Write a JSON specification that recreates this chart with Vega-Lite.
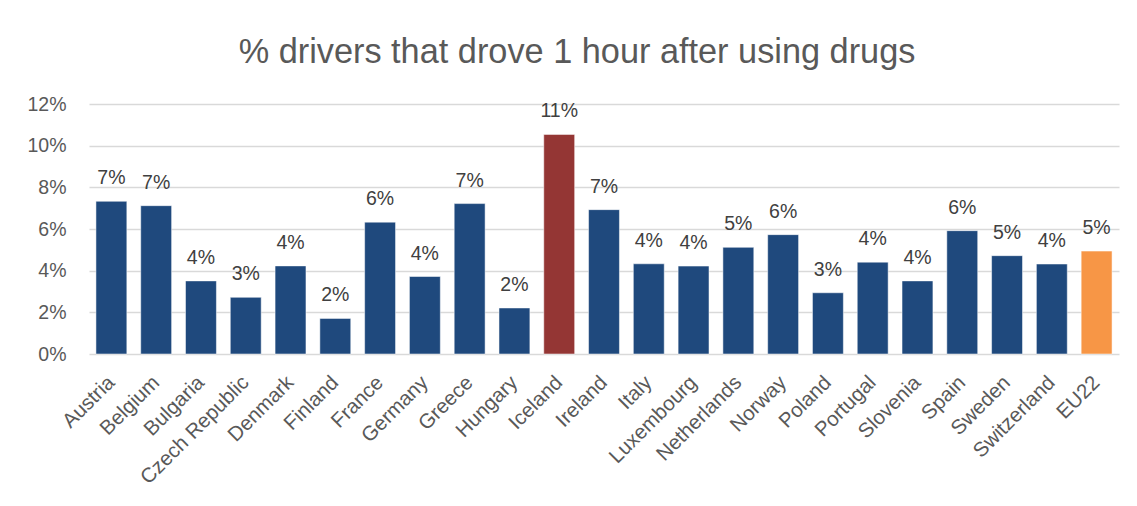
{
  "$schema": "https://vega.github.io/schema/vega-lite/v6.json",
  "autosize": {"type": "none"},
  "padding": {"left": 89, "top": 104, "right": 18, "bottom": 152},
  "width": 1030,
  "height": 250,
  "background": "white",
  "title": {
    "text": "% drivers that drove 1 hour after using drugs",
    "font": "Liberation Sans",
    "fontSize": 34.3,
    "fontWeight": "normal",
    "color": "#595959",
    "anchor": "middle",
    "dx": -27,
    "offset": -3,
    "baseline": "alphabetic"
  },
  "data": {
    "values": [
      {"country": "Austria", "value": 0.0733, "group": "country"},
      {"country": "Belgium", "value": 0.0712, "group": "country"},
      {"country": "Bulgaria", "value": 0.0351, "group": "country"},
      {"country": "Czech Republic", "value": 0.0272, "group": "country"},
      {"country": "Denmark", "value": 0.0423, "group": "country"},
      {"country": "Finland", "value": 0.0171, "group": "country"},
      {"country": "France", "value": 0.0633, "group": "country"},
      {"country": "Germany", "value": 0.0372, "group": "country"},
      {"country": "Greece", "value": 0.0722, "group": "country"},
      {"country": "Hungary", "value": 0.0221, "group": "country"},
      {"country": "Iceland", "value": 0.1054, "group": "highlight"},
      {"country": "Ireland", "value": 0.0693, "group": "country"},
      {"country": "Italy", "value": 0.0433, "group": "country"},
      {"country": "Luxembourg", "value": 0.0422, "group": "country"},
      {"country": "Netherlands", "value": 0.0512, "group": "country"},
      {"country": "Norway", "value": 0.0573, "group": "country"},
      {"country": "Poland", "value": 0.0294, "group": "country"},
      {"country": "Portugal", "value": 0.0441, "group": "country"},
      {"country": "Slovenia", "value": 0.0351, "group": "country"},
      {"country": "Spain", "value": 0.0592, "group": "country"},
      {"country": "Sweden", "value": 0.0472, "group": "country"},
      {"country": "Switzerland", "value": 0.0432, "group": "country"},
      {"country": "EU22", "value": 0.0494, "group": "eu"}
    ]
  },
  "encoding": {
    "x": {
      "field": "country",
      "type": "nominal",
      "sort": null,
      "scale": {"paddingInner": 0.31, "paddingOuter": 0.155},
      "axis": {
        "title": null,
        "labelAngle": -45,
        "labelFont": "Liberation Sans",
        "labelFontSize": 20.5,
        "labelColor": "#595959",
        "labelPadding": 18,
        "labelOffset": -7,
        "ticks": false,
        "domain": false,
        "grid": false
      }
    },
    "y": {
      "field": "value",
      "type": "quantitative",
      "scale": {"domain": [0, 0.12]},
      "axis": {
        "title": null,
        "format": ".0%",
        "values": [0, 0.02, 0.04, 0.06, 0.08, 0.1, 0.12],
        "labelFont": "Liberation Sans",
        "labelFontSize": 19.5,
        "labelColor": "#595959",
        "labelPadding": 23,
        "ticks": false,
        "domain": false,
        "grid": true,
        "gridColor": "#d9d9d9",
        "gridWidth": 1.5
      }
    }
  },
  "layer": [
    {
      "mark": {"type": "bar", "stroke": "white", "strokeWidth": 0.5},
      "encoding": {
        "color": {
          "field": "group",
          "type": "nominal",
          "scale": {"domain": ["country", "highlight", "eu"], "range": ["#1f497d", "#943634", "#f79646"]},
          "legend": null
        }
      }
    },
    {
      "mark": {
        "type": "text",
        "baseline": "alphabetic",
        "dy": -17,
        "font": "Liberation Sans",
        "fontSize": 19.5,
        "color": "#404040"
      },
      "encoding": {
        "text": {"field": "value", "type": "quantitative", "format": ".0%"}
      }
    }
  ],
  "config": {
    "view": {"stroke": null}
  }
}
